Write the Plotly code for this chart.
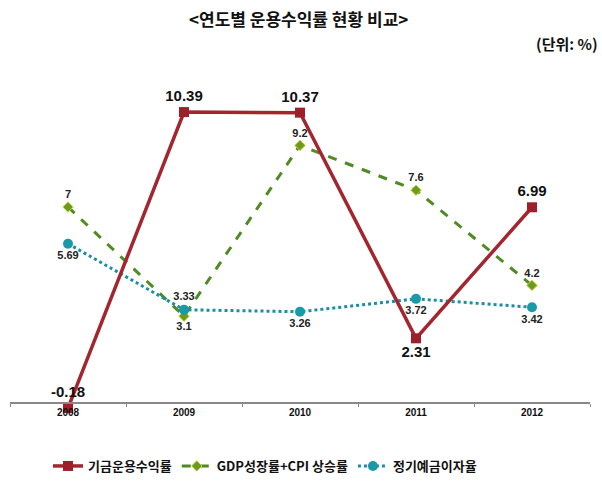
import plotly.graph_objects as go

years = ["2008", "2009", "2010", "2011", "2012"]
fund = [-0.18, 10.39, 10.37, 2.31, 6.99]
gdp_cpi = [7, 3.1, 9.2, 7.6, 4.2]
deposit = [5.69, 3.33, 3.26, 3.72, 3.42]

names = ["기금운용수익률", "GDP성장률+CPI 상승률", "정기예금이자율"]

fund_pos = ["top center", "top center", "top center", "bottom center", "top center"]
gdp_pos = ["top center", "bottom center", "top center", "top center", "top center"]
dep_pos = ["bottom center", "top center", "bottom center", "bottom center", "bottom center"]

KR = "Noto Sans CJK KR"
NUM = "Liberation Sans, Arial, sans-serif"

YMIN, YMAX = -0.25, 12
PX_PER_UNIT = 28
plot_h = (YMAX - YMIN) * PX_PER_UNIT
zero_px = 403
b_margin = 482 - (zero_px + (-YMIN) * PX_PER_UNIT)
t_margin = 482 - b_margin - plot_h

fig = go.Figure()
fig.add_trace(go.Scatter(
    x=years, y=gdp_cpi, name=names[1], mode="lines+markers+text", legendrank=2,
    line=dict(color="#4f8a23", width=3, dash="dash"),
    marker=dict(symbol="diamond", size=8, color="#6a9a1e", line=dict(color="#c8d23a", width=1)),
    text=[str(v) for v in gdp_cpi], textposition=gdp_pos,
    textfont=dict(family=NUM, size=11, color="#222", weight="bold"),
    cliponaxis=False))
fig.add_trace(go.Scatter(
    x=years, y=deposit, name=names[2], mode="lines+markers+text", legendrank=3,
    line=dict(color="#1a8fa3", width=3, dash="dot"),
    marker=dict(symbol="circle", size=10, color="#1a9aa8"),
    text=[f"{v:.2f}" for v in deposit], textposition=dep_pos,
    textfont=dict(family=NUM, size=11, color="#222", weight="bold"),
    cliponaxis=False))
fig.add_trace(go.Scatter(
    x=years, y=fund, name=names[0], mode="lines+markers+text", legendrank=1,
    line=dict(color="#a3262f", width=3.5),
    marker=dict(symbol="square", size=10, color="#9c1f2a"),
    text=[f"{v:.2f}" for v in fund], textposition=fund_pos,
    textfont=dict(family=NUM, size=15, color="#111", weight="bold"),
    cliponaxis=False))

fig.update_layout(
    width=602, height=482,
    margin=dict(l=10, r=12, t=t_margin, b=b_margin, autoexpand=False),
    paper_bgcolor="white", plot_bgcolor="white",
    showlegend=True,
    legend=dict(orientation="h", x=(48 - 10) / 580, xanchor="left",
                y=-(466 - (482 - b_margin)) / plot_h, yanchor="middle",
                font=dict(family=KR, size=13, color="#111", weight="bold"),
                itemwidth=30, traceorder="normal"),
    xaxis=dict(range=[-0.5, 4.5], anchor="free", position=(-YMIN) / (YMAX - YMIN),
               showline=True, linecolor="#888", linewidth=1.5,
               ticks="outside", tickson="boundaries", ticklen=3, tickcolor="#888",
               showgrid=False, zeroline=False,
               tickfont=dict(family=NUM, size=10, color="#111", weight="bold")),
    yaxis=dict(range=[YMIN, YMAX], visible=False, showgrid=False, zeroline=False,
               domain=[0, 1]),
    annotations=[
        dict(text="&lt;연도별 운용수익률 현황 비교&gt;",
             x=0.5 - 2 / 580, xref="paper", y=1 + (t_margin - 18) / plot_h, yref="paper",
             yanchor="middle", showarrow=False,
             font=dict(family=KR, size=17, color="#111", weight="bold")),
        dict(text="(단위: %)", x=1 + 10 / 580, xref="paper", xanchor="right",
             y=1 + (t_margin - 43) / plot_h, yref="paper", yanchor="middle",
             showarrow=False, font=dict(family=KR, size=15, color="#111", weight="bold")),
    ],
)

fig.write_html("out.html")
